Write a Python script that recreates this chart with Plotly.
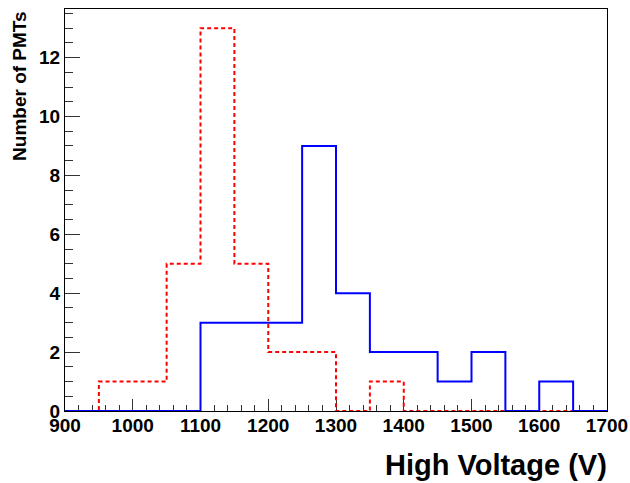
import plotly.graph_objects as go

# bin edges (V) and counts per 50 V bin
bin_edges = [900, 950, 1000, 1050, 1100, 1150, 1200, 1250, 1300,
             1350, 1400, 1450, 1500, 1550, 1600, 1650, 1700]
counts_red = [0, 1, 1, 5, 13, 5, 2, 2, 0, 1, 0, 0, 0, 0, 0, 0]
counts_blue = [0, 0, 0, 0, 3, 3, 3, 9, 4, 2, 2, 1, 2, 0, 1, 0]

x_title = "High Voltage (V)"
y_title = "Number of PMTs"

FONT = "Liberation Sans"


def step_trace(counts, color, dash):
    # histogram outline: repeat last count so the final bin gets its top edge
    return go.Scatter(
        x=bin_edges,
        y=counts + [counts[-1]],
        mode="lines",
        line=dict(shape="hv", color=color, width=2, dash=dash),
        cliponaxis=False,
        showlegend=False,
        hoverinfo="skip",
    )


fig = go.Figure()
fig.add_trace(step_trace(counts_red, "#ff0000", "4px,3px"))
fig.add_trace(step_trace(counts_blue, "#0000ff", "solid"))

axis_common = dict(
    showline=True,
    linecolor="black",
    linewidth=1,
    mirror=True,
    showgrid=False,
    zeroline=False,
    ticks="inside",
    tickcolor="#333333",
    tickwidth=1,
    tickfont=dict(family=FONT, size=19, color="black", weight="bold"),
    layer="below traces",
    automargin=False,
)

fig.update_xaxes(
    range=[900, 1700],
    dtick=100,
    tick0=900,
    ticklen=12,
    ticklabelstandoff=-3,
    minor=dict(dtick=20, tick0=900, ticks="inside", ticklen=6, tickcolor="#333333"),
    **axis_common,
)
fig.update_yaxes(
    range=[0, 13.65],
    dtick=2,
    tick0=0,
    ticklen=15,
    minor=dict(dtick=0.5, tick0=0, ticks="inside", ticklen=8, tickcolor="#333333"),
    **axis_common,
)

fig.add_annotation(
    text=x_title, xref="paper", yref="paper", x=1.003, y=-0.09,
    xanchor="right", yanchor="top", showarrow=False,
    font=dict(family=FONT, size=29, color="black", weight="bold"),
)
fig.add_annotation(
    text=y_title, xref="paper", yref="paper", x=-0.085, y=1.0,
    xanchor="center", yanchor="top", textangle=-90, showarrow=False,
    font=dict(family=FONT, size=19, color="black", weight="bold"),
)

fig.update_layout(
    width=630,
    height=483,
    margin=dict(l=65, r=23, t=9, b=72),
    paper_bgcolor="white",
    plot_bgcolor="white",
)

# drop the page's default body margin so the figure sits at the window corner
fig.write_html(
    "out.html",
    config={"displayModeBar": False},
    post_script="document.body.style.margin='0';",
)
